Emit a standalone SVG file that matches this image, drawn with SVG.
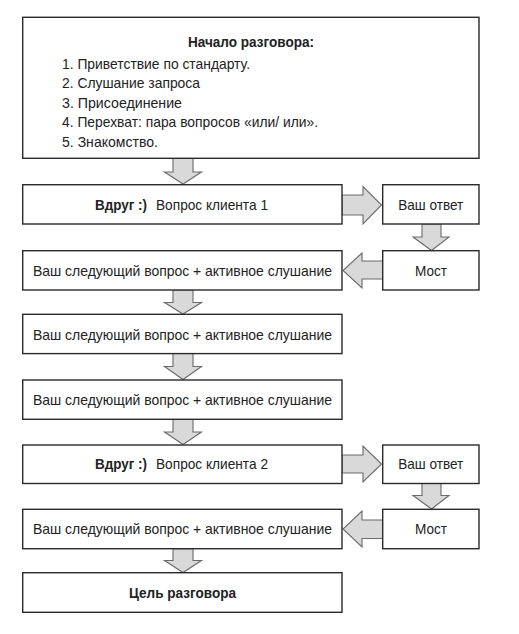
<svg xmlns="http://www.w3.org/2000/svg" width="519" height="634" viewBox="0 0 519 634">
<style>
.box{fill:#fff;stroke:#2a2a2a;stroke-width:1.4}
.arr{fill:#d9d9d9;stroke:#6a6a6a;stroke-width:1.1;stroke-linejoin:miter}
text{font-family:"Liberation Sans",Arial,sans-serif;font-size:14.5px;fill:#222}
.b{font-weight:bold}
.c{text-anchor:middle}
</style>
<rect width="519" height="634" fill="#fff"/>
<g id="connectors">
<polygon class="arr" points="173,158 193,158 193,172 201.5,172 183,184 164.5,172 173,172"/>
<polygon class="arr" points="342,195 363,195 363,186.5 381.5,205 363,224 363,215 342,215"/>
<polygon class="arr" points="422,224 441,224 441,237 449,237 431.5,250.5 413,237 422,237"/>
<polygon class="arr" points="382.7,261 362,261 362,253 343,270.5 362,288 362,279 382.7,279"/>
<polygon class="arr" points="173,290 193,290 193,302.5 201.5,302.5 183,314 164.5,302.5 173,302.5"/>
<polygon class="arr" points="173,353.5 193,353.5 193,366.5 201.5,366.5 183,379.5 164.5,366.5 173,366.5"/>
<polygon class="arr" points="173,419.5 193,419.5 193,432 201.5,432 183,444.5 164.5,432 173,432"/>
<polygon class="arr" points="342,455 363,455 363,446 381.5,464 363,482 363,473 342,473"/>
<polygon class="arr" points="422,483.5 441,483.5 441,495.5 449,495.5 431.5,509 413,495.5 422,495.5"/>
<polygon class="arr" points="382.7,520 362,520 362,511 343,529 362,547 362,538.5 382.7,538.5"/>
<polygon class="arr" points="173,548.7 193,548.7 193,560.5 201.5,560.5 183,572.5 164.5,560.5 173,560.5"/>
</g>
<g id="start">
<rect class="box" x="22.7" y="17.3" width="456.3" height="141"/>
<text class="b c" x="251" y="46.5" textLength="126" lengthAdjust="spacingAndGlyphs">Начало разговора:</text>
<text x="62" y="68.5" textLength="188" lengthAdjust="spacingAndGlyphs">1. Приветствие по стандарту.</text>
<text x="62" y="88" textLength="138" lengthAdjust="spacingAndGlyphs">2. Слушание запроса</text>
<text x="62" y="107.5" textLength="120" lengthAdjust="spacingAndGlyphs">3. Присоединение</text>
<text x="62" y="127" textLength="256" lengthAdjust="spacingAndGlyphs">4. Перехват: пара вопросов «или/ или».</text>
<text x="62" y="146.5" textLength="96" lengthAdjust="spacingAndGlyphs">5. Знакомство.</text>
</g>
<g id="q1">
<rect class="box" x="22.7" y="184.7" width="319.3" height="39.3"/>
<text x="95" y="209.5"><tspan class="b" textLength="52" lengthAdjust="spacingAndGlyphs">Вдруг :)</tspan><tspan x="156" textLength="112" lengthAdjust="spacingAndGlyphs">Вопрос клиента 1</tspan></text>
</g>
<g id="answer1">
<rect class="box" x="382.7" y="184.7" width="96.3" height="39.3"/>
<text class="c" x="430.8" y="209.5" textLength="65" lengthAdjust="spacingAndGlyphs">Ваш ответ</text>
</g>
<g id="bridge1">
<rect class="box" x="382.7" y="250.7" width="96.3" height="39.3"/>
<text class="c" x="431" y="276.3" textLength="32" lengthAdjust="spacingAndGlyphs">Мост</text>
</g>
<g id="next1">
<rect class="box" x="22.7" y="250.7" width="319.3" height="39.3"/>
<text class="c" x="182.5" y="276.3" textLength="299" lengthAdjust="spacingAndGlyphs">Ваш следующий вопрос + активное слушание</text>
</g>
<g id="next2">
<rect class="box" x="22.7" y="314.3" width="319.3" height="39.3"/>
<text class="c" x="182.5" y="339.5" textLength="299" lengthAdjust="spacingAndGlyphs">Ваш следующий вопрос + активное слушание</text>
</g>
<g id="next3">
<rect class="box" x="22.7" y="380" width="319.3" height="39.3"/>
<text class="c" x="182.5" y="405.3" textLength="299" lengthAdjust="spacingAndGlyphs">Ваш следующий вопрос + активное слушание</text>
</g>
<g id="q2">
<rect class="box" x="22.7" y="445" width="319.3" height="38.5"/>
<text x="95" y="469.3"><tspan class="b" textLength="52" lengthAdjust="spacingAndGlyphs">Вдруг :)</tspan><tspan x="156" textLength="112" lengthAdjust="spacingAndGlyphs">Вопрос клиента 2</tspan></text>
</g>
<g id="answer2">
<rect class="box" x="382.7" y="445" width="96.3" height="38.5"/>
<text class="c" x="430.8" y="469.3" textLength="65" lengthAdjust="spacingAndGlyphs">Ваш ответ</text>
</g>
<g id="bridge2">
<rect class="box" x="382.7" y="509.3" width="96.3" height="39.4"/>
<text class="c" x="431" y="534.3" textLength="32" lengthAdjust="spacingAndGlyphs">Мост</text>
</g>
<g id="next4">
<rect class="box" x="22.7" y="509.3" width="319.3" height="39.4"/>
<text class="c" x="182.5" y="534.3" textLength="299" lengthAdjust="spacingAndGlyphs">Ваш следующий вопрос + активное слушание</text>
</g>
<g id="goal">
<rect class="box" x="22.7" y="572.7" width="319.3" height="39.6"/>
<text class="b c" x="182.5" y="597.8" textLength="107" lengthAdjust="spacingAndGlyphs">Цель разговора</text>
</g>
</svg>
